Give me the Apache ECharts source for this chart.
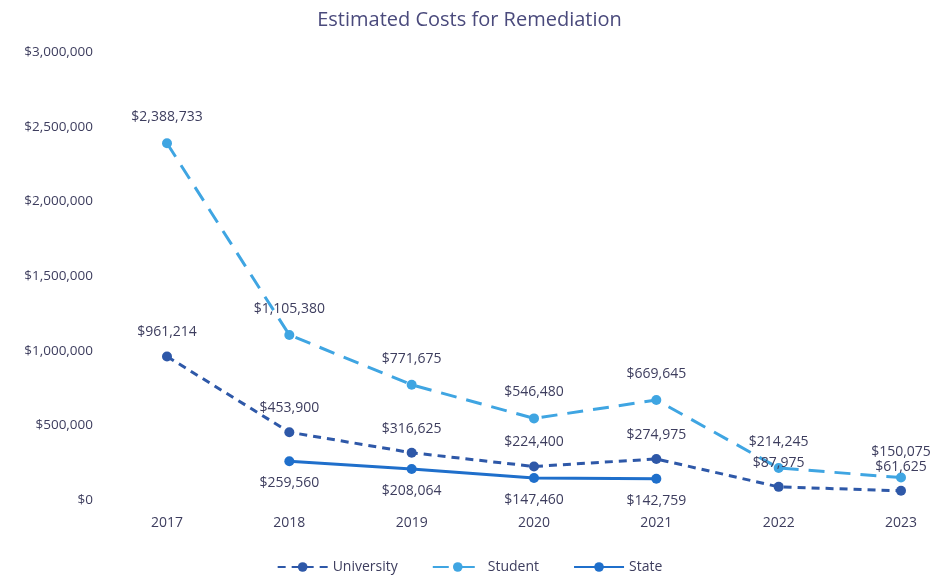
<!DOCTYPE html>
<html>
<head>
<meta charset="utf-8">
<script src="https://cdn.jsdelivr.net/npm/echarts@6/dist/echarts.min.js"></script>
<style>
  html, body { margin: 0; padding: 0; background: #fff; }
  #chart { width: 939px; height: 579px; }
</style>
</head>
<body>
<div id="chart"></div>
<script>
const years = ['2017', '2018', '2019', '2020', '2021', '2022', '2023'];
const university = [961214, 453900, 316625, 224400, 274975, 87975, 61625];
const student = [2388733, 1105380, 771675, 546480, 669645, 214245, 150075];
const state = [null, 259560, 208064, 147460, 142759, null, null];

const font = '"Open Sans", "Noto Sans", sans-serif';
const textColor = '#3d3d5e';

const money = (v) => '$' + Math.round(v).toLocaleString('en-US');

const chart = echarts.init(document.getElementById('chart'));

const option = {
  animation: false,
  color: ['#2e58a8', '#3fa5e2', '#1f6fcb'],
  title: {
    text: 'Estimated Costs for Remediation',
    left: 'center',
    top: 5,
    textStyle: { fontFamily: font, fontSize: 20, fontWeight: 'normal', color: '#4a4a7c' }
  },
  legend: {
    bottom: 0,
    left: 'center',
    itemWidth: 50,
    itemHeight: 12,
    itemGap: 34,
    textStyle: { fontFamily: font, fontSize: 14, color: textColor },
    data: ['University', 'Student', 'State']
  },
  grid: {
    left: 167,
    right: 38,
    top: 52,
    bottom: 79
  },
  xAxis: {
    type: 'category',
    data: years,
    boundaryGap: false,
    axisLine: { show: false },
    axisTick: { show: false },
    axisLabel: { fontFamily: font, fontSize: 14, color: textColor, margin: 16 }
  },
  yAxis: {
    type: 'value',
    min: 0,
    max: 3000000,
    interval: 500000,
    splitLine: { show: false },
    axisLine: { show: false },
    axisTick: { show: false },
    axisLabel: {
      fontFamily: font, fontSize: 13.5, color: textColor, margin: 74,
      formatter: money
    }
  },
  series: [
    {
      name: 'University',
      type: 'line',
      data: university,
      symbol: 'circle',
      symbolSize: 10,
      lineStyle: { width: 3, type: [8, 6] },
      label: {
        show: true, position: 'top', distance: 12,
        fontFamily: font, fontSize: 14, color: textColor,
        formatter: (p) => money(p.value)
      }
    },
    {
      name: 'Student',
      type: 'line',
      data: student,
      symbol: 'circle',
      symbolSize: 10,
      lineStyle: { width: 3, type: [16, 10] },
      label: {
        show: true, position: 'top', distance: 14,
        fontFamily: font, fontSize: 14, color: textColor,
        formatter: (p) => money(p.value)
      }
    },
    {
      name: 'State',
      type: 'line',
      data: state,
      symbol: 'circle',
      symbolSize: 10,
      lineStyle: { width: 3 },
      label: {
        show: true, position: 'bottom', distance: 10,
        fontFamily: font, fontSize: 14, color: textColor,
        formatter: (p) => money(p.value)
      }
    }
  ]
};

chart.setOption(option);
window.addEventListener('resize', () => {
  chart.resize();
});
</script>
</body>
</html>
